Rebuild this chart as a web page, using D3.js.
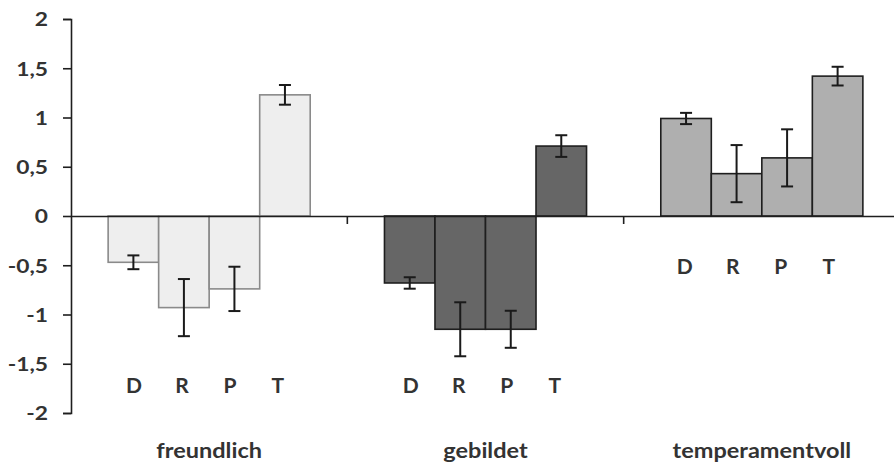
<!DOCTYPE html>
<html>
<head>
<meta charset="utf-8">
<script src="https://cdn.jsdelivr.net/npm/d3@7"></script>
<style>
  html, body { margin: 0; padding: 0; background: #fff; }
  svg { display: block; }
  text { font-family: Lato, "Open Sans", "DejaVu Sans", sans-serif; fill: #333; }
</style>
</head>
<body>
<svg id="chart" width="894" height="462"></svg>
<script>
// ---- data ----
const categories = ["freundlich", "gebildet", "temperamentvoll"];
const seriesNames = ["D", "R", "P", "T"];
const freundlich = [-0.47, -0.93, -0.74, 1.23];
const gebildet = [-0.68, -1.15, -1.15, 0.71];
const temperamentvoll = [0.99, 0.43, 0.59, 1.42];
const errFreundlich = [0.07, 0.29, 0.225, 0.10];
const errGebildet = [0.058, 0.274, 0.188, 0.11];
const errTemperamentvoll = [0.057, 0.29, 0.29, 0.095];
const yTicks = [-2, -1.5, -1, -0.5, 0, 0.5, 1, 1.5, 2];

const values = [freundlich, gebildet, temperamentvoll];
const errors = [errFreundlich, errGebildet, errTemperamentvoll];
const fills = ["#eeeeee", "#666666", "#afafaf"];
const strokes = ["#8a8a8a", "#1e1e1e", "#1e1e1e"];

// ---- layout ----
const svg = d3.select("#chart");
const mLeft = 71, mRight = 900, mTop = 19, mBottom = 413;

const x0 = d3.scaleBand().domain(categories).range([mLeft, mRight]).paddingInner(0).paddingOuter(0);
const x1 = d3.scaleBand().domain(seriesNames).range([0, x0.bandwidth()]).paddingInner(0).paddingOuter(0.735);
const y = d3.scaleLinear().domain([-2, 2]).range([mBottom, mTop]);

const fmt = v => String(v).replace(".", ",");
const stretchTick = 1.2, stretchCat = 1.12;

// y axis
const yAxis = d3.axisLeft(y).tickValues(yTicks).tickSize(8).tickPadding(15).tickFormat(fmt);
const gy = svg.append("g").attr("transform", `translate(${mLeft},0)`).call(yAxis);
gy.select(".domain").attr("stroke", "#1e1e1e").attr("stroke-width", 1.6);
gy.selectAll(".tick line").attr("stroke", "#1e1e1e").attr("stroke-width", 1.6);
gy.selectAll(".tick text")
  .style("font-family", "Lato, sans-serif").style("font-size", "19px").style("font-weight", "700")
  .attr("fill", "#333").attr("dy", "0.36em")
  .attr("x", -23 / stretchTick)
  .attr("transform", `scale(${stretchTick},1)`);

// bars
categories.forEach((cat, ci) => {
  const g = svg.append("g").attr("transform", `translate(${x0(cat)},0)`);
  seriesNames.forEach((s, si) => {
    const v = values[ci][si];
    g.append("rect")
      .attr("x", x1(s))
      .attr("width", x1.bandwidth())
      .attr("y", Math.min(y(v), y(0)))
      .attr("height", Math.abs(y(v) - y(0)))
      .attr("fill", fills[ci])
      .attr("stroke", strokes[ci])
      .attr("stroke-width", 1.6);
  });
});

// zero line (category axis) and tick marks
const xAxis = d3.axisBottom(x0).tickSize(0).tickFormat("");
const gx = svg.append("g").attr("transform", `translate(0,${y(0)})`).call(xAxis);
gx.select(".domain").attr("stroke", "#1e1e1e").attr("stroke-width", 1.6);
categories.slice(1).forEach(cat => {
  svg.append("line")
    .attr("x1", x0(cat)).attr("x2", x0(cat))
    .attr("y1", y(0)).attr("y2", y(0) + 8)
    .attr("stroke", "#1e1e1e").attr("stroke-width", 1.6);
});

// error bars
categories.forEach((cat, ci) => {
  seriesNames.forEach((s, si) => {
    const v = values[ci][si], e = errors[ci][si];
    const cx = x0(cat) + x1(s) + x1.bandwidth() / 2;
    const g = svg.append("g").attr("stroke", "#1a1a1a").attr("stroke-width", 2);
    g.append("line").attr("x1", cx).attr("x2", cx).attr("y1", y(v + e)).attr("y2", y(v - e));
    [v + e, v - e].forEach(t => {
      g.append("line").attr("x1", cx - 6).attr("x2", cx + 6).attr("y1", y(t)).attr("y2", y(t));
    });
  });
});

// series letters
const letterRow = { freundlich: -1.72, gebildet: -1.72, temperamentvoll: -0.515 };
const letterShift = { freundlich: 0.5, gebildet: 1, temperamentvoll: -1.3 };
categories.forEach(cat => {
  seriesNames.forEach((s, si) => {
    const cx = x0(cat) + x1(seriesNames[0]) + x1.bandwidth() / 2 + letterShift[cat] + si * 48;
    svg.append("text")
      .attr("x", cx)
      .attr("y", y(letterRow[cat]))
      .attr("dy", "0.36em")
      .attr("text-anchor", "middle")
      .style("font-size", "21px")
      .style("font-weight", "700")
      .text(s);
  });
});

// category labels
categories.forEach(cat => {
  const cx = x0(cat) + x0.bandwidth() / 2;
  svg.append("text")
    .attr("transform", `translate(${cx},458) scale(${stretchCat},1)`)
    .attr("text-anchor", "middle")
    .style("font-size", "21px")
    .style("font-weight", "700")
    .text(cat);
});
</script>
</body>
</html>
